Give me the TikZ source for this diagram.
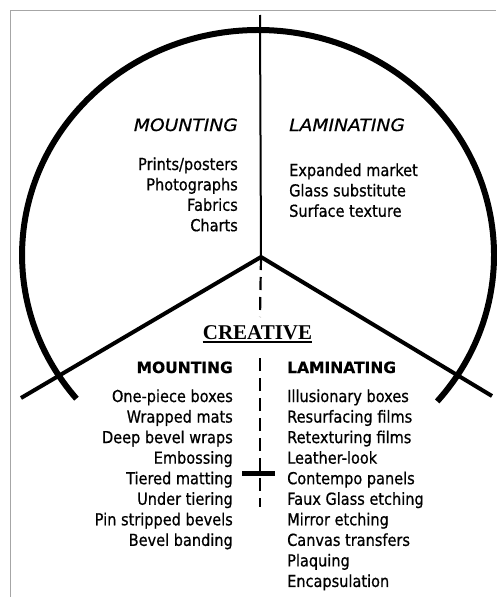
\documentclass[tikz,border=0pt]{standalone}
\usepackage{fontspec}
\newfontfamily\bodyf[FakeStretch=0.88, FakeBold=0.7]{DejaVu Sans}
\newfontfamily\headf[FakeStretch=1.1, FakeBold=0.6]{DejaVu Sans}
\newfontfamily\boldf[FakeBold=0.5]{DejaVu Sans}
\newfontfamily\serf{Liberation Serif}
\begin{document}
\begin{tikzpicture}[x=1pt,y=-1pt,
  item/.style={font=\bodyf\fontsize{16.5}{19}\selectfont, inner sep=0pt},
  headi/.style={font=\headf\itshape\fontsize{17}{20}\selectfont, inner sep=0pt},
  headb/.style={font=\boldf\bfseries\fontsize{15.5}{18}\selectfont, inner sep=0pt},
  ring/.style={line width=6pt},
  vline/.style={line width=4pt},
  axis/.style={line width=2pt},
  dashaxis/.style={line width=2.2pt, dash pattern=on 13pt off 7pt},
  frame/.style={draw=gray!70, line width=1pt}]
\useasboundingbox (0,0) rectangle (496,597);
\draw[frame] (10,597) -- (10,10) -- (496,10);
% coordinates
\coordinate (apex) at (261,257);
\coordinate (top) at (260,15);
\coordinate (lend) at (21,398);
\coordinate (rend) at (492,396);
\coordinate (arcR) at (437.2,401.4);
\coordinate (d1) at (260,317);
\coordinate (d2a) at (260,358);
\coordinate (d2b) at (260,507);
\coordinate (cbL) at (242,473);
\coordinate (cbR) at (275,473);
% circle
\draw[ring] (arcR) arc[start angle=-40.6, end angle=219.7, x radius=236pt, y radius=225pt];
% lines
\draw[axis] (top) -- (apex);
\draw[vline] (lend) -- (apex) -- (rend);
\draw[dashaxis] (apex) -- (d1);
\draw[dashaxis] (d2a) -- (d2b);
\draw[line width=5pt] (cbL) -- (cbR);
% upper headings
\node[headi, anchor=base east] (um) at (238,131) {MOUNTING};
\node[headi, anchor=base west] (ul) at (289,131) {LAMINATING};
\foreach \t [count=\i] in {Prints/posters, Photographs, Fabrics, Charts}
  \node[item, anchor=base east] (uml\i) at (238,{170+20.4*(\i-1)}) {\t};
\foreach \t [count=\i] in {Expanded market, Glass substitute, Surface texture}
  \node[item, anchor=base west] (ull\i) at (289,{176+20.4*(\i-1)}) {\t};
% creative
\node[font=\serf\bfseries\fontsize{21}{24}\selectfont, inner sep=0pt, anchor=base] (cr) at (257.5,339) {CREATIVE};
\draw[line width=1.2pt] ([yshift=-3pt]cr.base west) -- ([yshift=-3pt]cr.base east);
% lower headings
\node[headb, anchor=base east] (lm) at (233,373) {MOUNTING};
\node[headb, anchor=base west] (ll) at (287,373) {LAMINATING};
\foreach \t [count=\i] in {One-piece boxes, Wrapped mats, Deep bevel wraps, Embossing, Tiered matting, Under tiering, Pin stripped bevels, Bevel banding}
  \node[item, anchor=base east] (lml\i) at (233,{402+20.55*(\i-1)}) {\t};
\foreach \t [count=\i] in {Illusionary boxes, Resurfacing films, Retexturing films, Leather-look, Contempo panels, Faux Glass etching, Mirror etching, Canvas transfers, Plaquing, Encapsulation}
  \node[item, anchor=base west] (lll\i) at (287,{402+20.55*(\i-1)}) {\t};
\end{tikzpicture}
\end{document}
